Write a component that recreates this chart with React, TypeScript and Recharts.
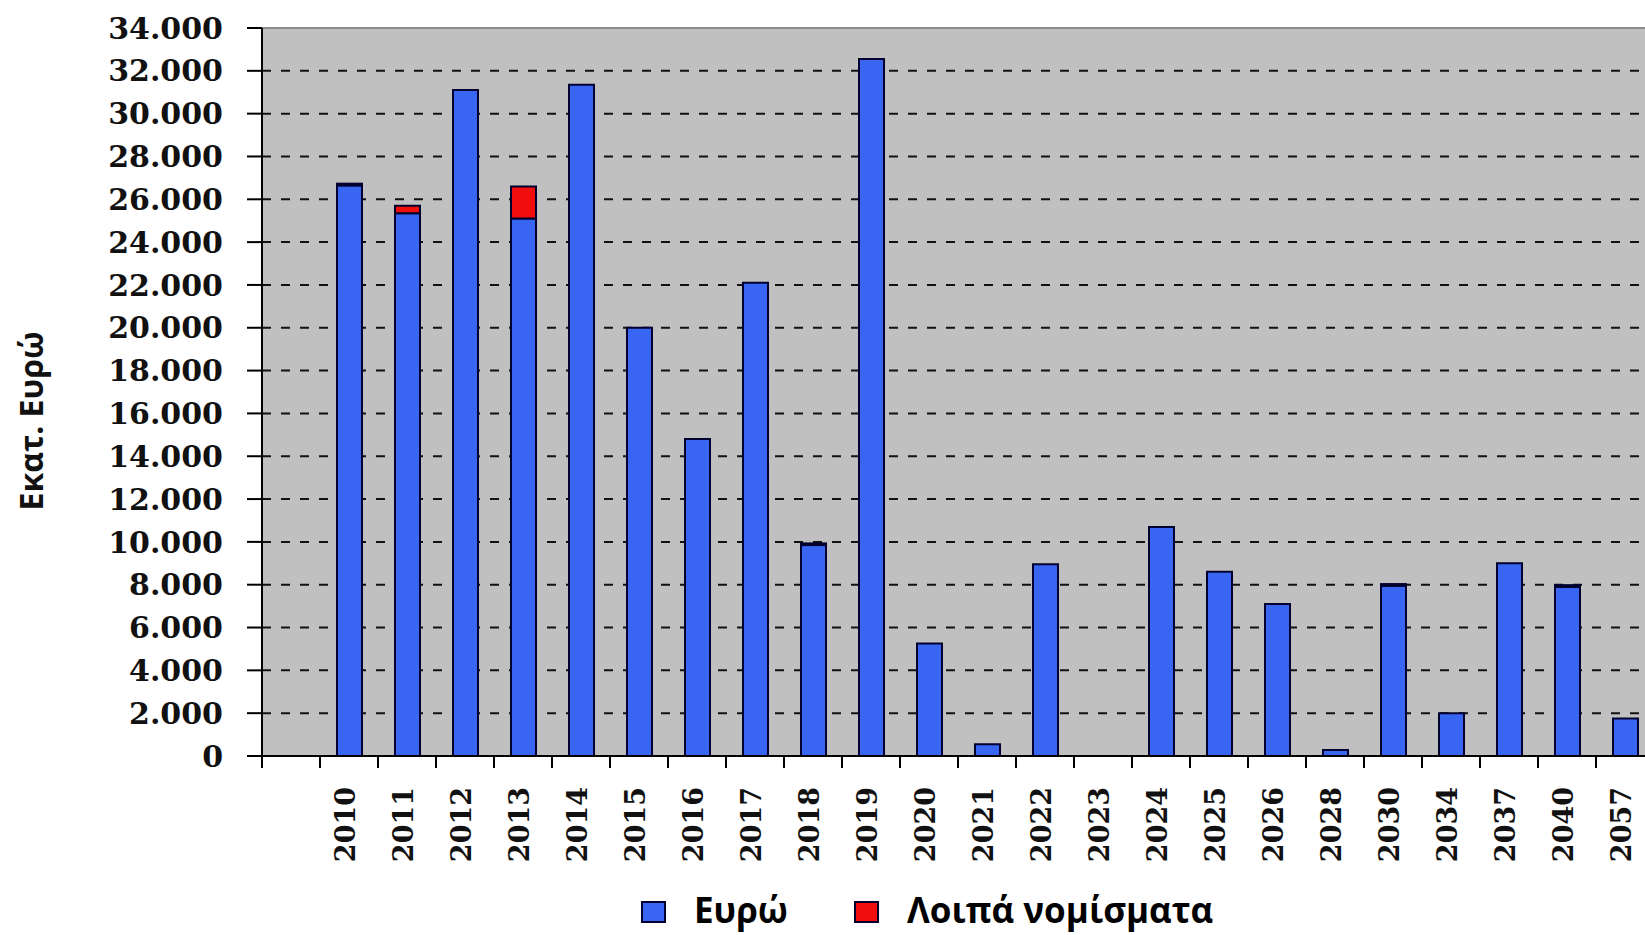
import React from "react";
import { BarChart, Bar, XAxis, YAxis, CartesianGrid, ReferenceLine } from "recharts";

// first slot is the empty category in front of 2010
const years = [
  "", "2010", "2011", "2012", "2013", "2014", "2015", "2016", "2017", "2018", "2019",
  "2020", "2021", "2022", "2023", "2024", "2025", "2026", "2028", "2030", "2034",
  "2037", "2040", "2057",
];
const euro = [
  0, 26650, 25350, 31100, 25100, 31350, 20000, 14800, 22100, 9850, 32550,
  5250, 550, 8950, 0, 10700, 8600, 7100, 280, 7950, 2000,
  9000, 7900, 1750,
];
const other = [
  0, 80, 350, 0, 1500, 0, 0, 0, 0, 80, 0,
  0, 0, 0, 0, 0, 0, 0, 0, 80, 0,
  0, 80, 0,
];
const yTicks = [
  0, 2000, 4000, 6000, 8000, 10000, 12000, 14000, 16000, 18000,
  20000, 22000, 24000, 26000, 28000, 30000, 32000, 34000,
];

const data = years.map((year, i) => ({ year, euro: euro[i], other: other[i] }));

const CHART_W = 1700;
const CHART_H = 935;
const Y_W = 262;
const RIGHT = 46;
const HALF_BAND = (CHART_W - Y_W - RIGHT) / years.length / 2;

const BLUE = "#3866f2";
const RED = "#f20d0d";
const EDGE = "#00002e";

function fmtY(v: number): string {
  return String(v).replace(/\B(?=(\d{3})+(?!\d))/g, ".");
}

function YearTick({ x, y, payload }: { x?: number; y?: number; payload?: { value: string } }) {
  if (x == null || y == null) return null;
  return (
    <g>
      <line x1={x - HALF_BAND} x2={x - HALF_BAND} y1={y} y2={y + 12} stroke="#000" strokeWidth={2} />
      <text
        transform={`translate(${x + 6},${y + 31}) rotate(-90)`}
        textAnchor="end"
        fontFamily="DejaVu Serif"
        fontWeight="bold"
        fontSize={27}
        fill="#111"
      >
        {payload?.value}
      </text>
    </g>
  );
}

function LegendItem({ color, label }: { color: string; label: string }) {
  return (
    <div style={{ display: "flex", alignItems: "center" }}>
      <div
        style={{
          width: 21,
          height: 18,
          background: color,
          border: `2px solid ${EDGE}`,
          marginRight: 28,
          position: "relative",
          top: 3,
        }}
      />
      <span>{label}</span>
    </div>
  );
}

export default function App() {
  return (
    <div
      style={{
        position: "absolute",
        left: 0,
        top: 0,
        width: 1645,
        height: 935,
        overflow: "hidden",
        background: "#fff",
      }}
    >
      <BarChart
        width={CHART_W}
        height={CHART_H}
        data={data}
        margin={{ top: 28, right: RIGHT, left: 0, bottom: 79 }}
        barSize={25}
      >
        <CartesianGrid
          vertical={false}
          stroke="#111"
          strokeDasharray="9 10"
          strokeWidth={2}
          fill="#c0c0c0"
          fillOpacity={1}
        />
        <XAxis
          dataKey="year"
          interval={0}
          height={100}
          tickSize={0}
          tickMargin={0}
          tickLine={false}
          axisLine={{ stroke: "#000", strokeWidth: 2 }}
          tick={<YearTick />}
        />
        <YAxis
          width={Y_W}
          domain={[0, 34000]}
          ticks={yTicks}
          interval={0}
          tickFormatter={fmtY}
          tickSize={15}
          tickMargin={24}
          axisLine={{ stroke: "#000", strokeWidth: 2 }}
          tickLine={{ stroke: "#000", strokeWidth: 2 }}
          tick={{ fontFamily: "DejaVu Serif", fontWeight: "bold", fontSize: 30, fill: "#111" }}
        />
        <ReferenceLine y={34000} stroke="#8c8c8c" strokeWidth={2} />
        <Bar dataKey="euro" stackId="a" fill={BLUE} stroke={EDGE} strokeWidth={2} isAnimationActive={false} />
        <Bar dataKey="other" stackId="a" fill={RED} stroke={EDGE} strokeWidth={2} isAnimationActive={false} />
      </BarChart>

      <div
        style={{
          position: "absolute",
          left: 30,
          top: 421,
          transform: "translate(-50%, -50%) rotate(-90deg)",
          whiteSpace: "nowrap",
          fontFamily: "Open Sans",
          fontWeight: 700,
          fontSize: 32,
          color: "#111",
        }}
      >
        Εκατ. Ευρώ
      </div>

      <div
        style={{
          position: "absolute",
          left: 641,
          top: 889,
          height: 40,
          display: "flex",
          alignItems: "center",
          gap: 66,
          fontFamily: "Open Sans",
          fontWeight: 700,
          fontSize: 35,
          color: "#000",
        }}
      >
        <LegendItem color={BLUE} label="Ευρώ" />
        <LegendItem color={RED} label="Λοιπά νομίσματα" />
      </div>
    </div>
  );
}
